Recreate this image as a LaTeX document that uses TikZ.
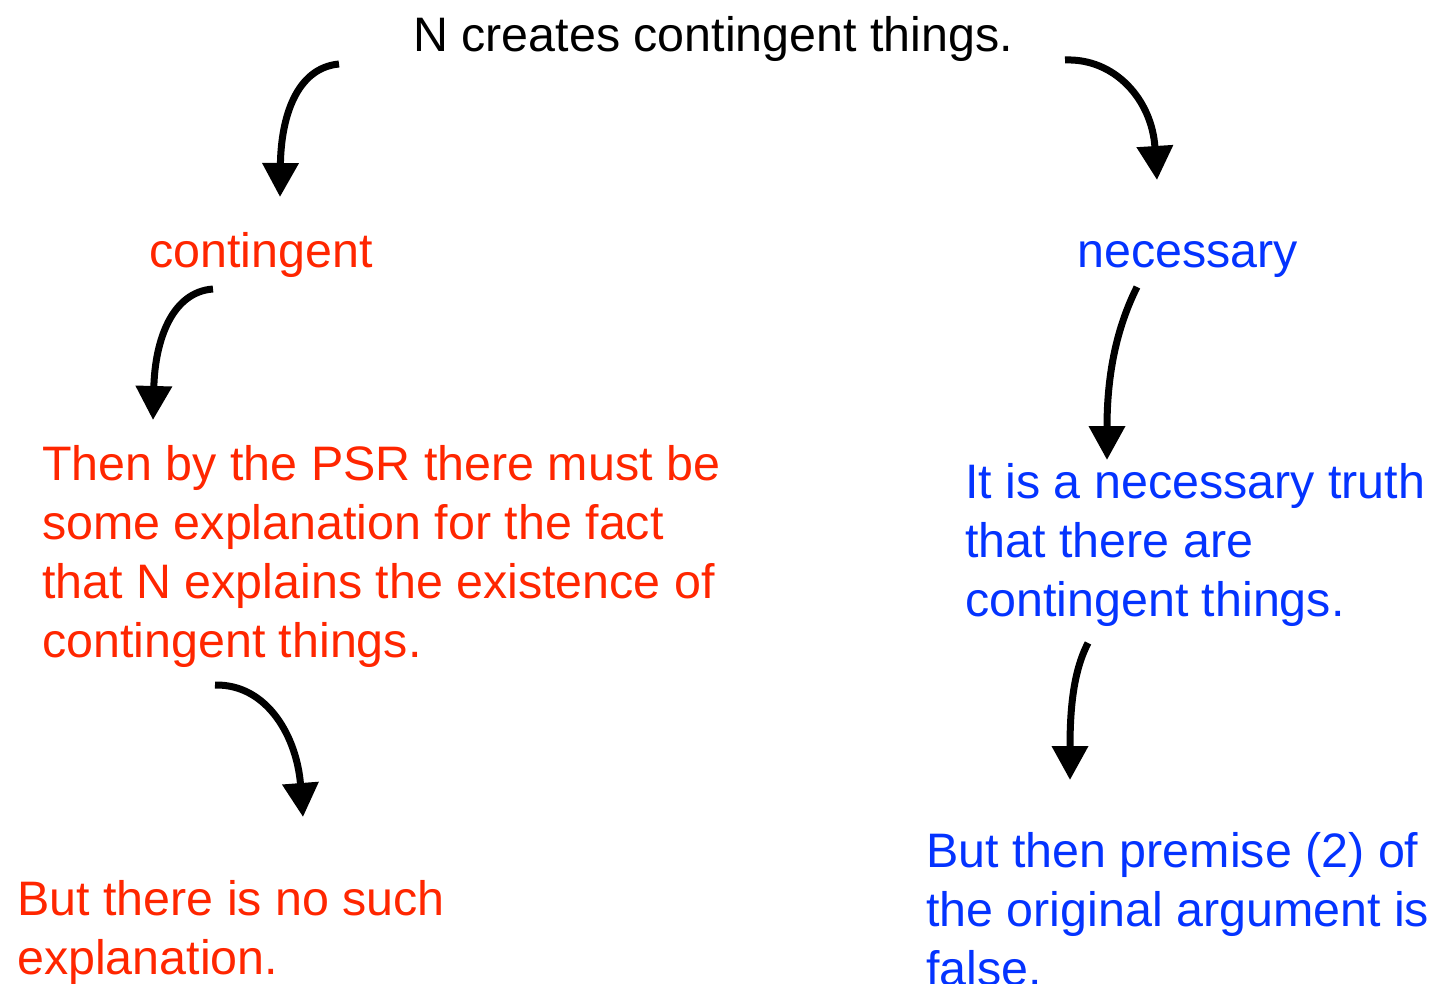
\documentclass[tikz,border=0pt]{standalone}
\usepackage{fontspec}
\setmainfont{Liberation Sans}
\usetikzlibrary{arrows.meta}
\definecolor{kred}{RGB}{255,38,0}
\definecolor{kblue}{RGB}{4,51,255}
\begin{document}
\begin{tikzpicture}[x=1pt,y=-1pt,
  txt/.style={anchor=base west,inner sep=0pt,align=left,font=\fontsize{48.4}{58.7}\selectfont},
  redtxt/.style={txt,text=kred},
  bluetxt/.style={txt,text=kblue},
  curvearrow/.style={line width=7pt,-{Triangle[width=35pt,length=34pt]}}]
\useasboundingbox (0,0) rectangle (1433,984);
\node[txt] (top) at (413,52) {N creates contingent things.};
\node[redtxt] (cont) at (149,268) {contingent};
\node[bluetxt] (nec) at (1077,268) {necessary};
\node[redtxt] (psr) at (42,657) {Then by the PSR there must be\\some explanation for the fact\\that N explains the existence of\\contingent things.};
\node[bluetxt] (truth) at (965,616) {It is a necessary truth\\that there are\\contingent things.};
\node[redtxt] (nosuch) at (17,974) {But there is no such\\explanation.};
\node[bluetxt] (premise) at (926,985) {But then premise (2) of\\the original argument is\\false.};
% arrow ends
\coordinate (a1s) at (339,64);   \coordinate (a1e) at (280,197);
\coordinate (a2s) at (1065,60);  \coordinate (a2e) at (1157,180);
\coordinate (a3s) at (213,289);  \coordinate (a3e) at (153,420);
\coordinate (a4s) at (1137,287); \coordinate (a4e) at (1107,460);
\coordinate (a5s) at (215,685);  \coordinate (a5e) at (303,817);
\coordinate (a6s) at (1088,643); \coordinate (a6e) at (1070,780);
\draw[curvearrow] (a1s) .. controls (296,68) and (281,118) .. (a1e);
\draw[curvearrow] (a2s) .. controls (1115,58) and (1152,100) .. (a2e);
\draw[curvearrow] (a3s) .. controls (172,292) and (155,340) .. (a3e);
\draw[curvearrow] (a4s) .. controls (1113,335) and (1107,385) .. (a4e);
\draw[curvearrow] (a5s) .. controls (268,684) and (297,738) .. (a5e);
\draw[curvearrow] (a6s) .. controls (1073,672) and (1070,710) .. (a6e);
\end{tikzpicture}
\end{document}
